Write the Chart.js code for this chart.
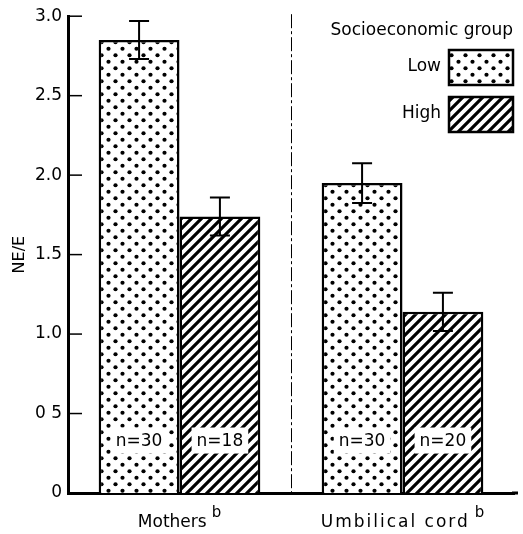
<!DOCTYPE html>
<html lang="en">
<head>
<meta charset="UTF-8" />
<title>NE/E by socioeconomic group</title>
<style>
  body { margin: 0; background: #fff; }
  #chart { display: block; }
</style>
</head>
<body>
<canvas id="chart" width="523" height="534"></canvas>
<script src="https://cdn.jsdelivr.net/npm/chart.js"></script>
<script>
// values
const groups = ['Mothers', 'Umbilical cord'];
const groupNote = 'b';
const seriesNames = ['Low', 'High'];
const lowValues = [2.85, 1.95];
const highValues = [1.74, 1.14];
const lowErrors = [0.12, 0.125];
const highErrors = [0.12, 0.12];
const lowCounts = ['n=30', 'n=30'];
const highCounts = ['n=18', 'n=20'];
const yTicks = [0, 0.5, 1, 1.5, 2, 2.5, 3];
const yTickLabels = ['0', '0 5', '1.0', '1.5', '2.0', '2.5', '3.0'];
const yTitle = 'NE/E';
const legendTitle = 'Socioeconomic group';

const FONT = 'DejaVu Sans';
Chart.defaults.font.family = FONT;
Chart.defaults.color = '#000';

// fill patterns: dots for low, diagonal hatch for high
function dotPattern() {
  const w = 14, h = 13;
  const c = document.createElement('canvas');
  c.width = w; c.height = h;
  const g = c.getContext('2d');
  g.fillStyle = '#fff';
  g.fillRect(0, 0, w, h);
  g.fillStyle = '#000';
  [[3.5, 3.25], [10.5, 9.75]].forEach(([x, y]) => {
    g.beginPath();
    g.arc(x, y, 2.1, 0, Math.PI * 2);
    g.fill();
  });
  return g.createPattern(c, 'repeat');
}

function hatchPattern() {
  const s = 10;
  const c = document.createElement('canvas');
  c.width = s; c.height = s;
  const g = c.getContext('2d');
  g.fillStyle = '#fff';
  g.fillRect(0, 0, s, s);
  g.strokeStyle = '#000';
  g.lineWidth = 3.2;
  g.beginPath();
  g.moveTo(-s / 2, s / 2); g.lineTo(s / 2, -s / 2);
  g.moveTo(0, s); g.lineTo(s, 0);
  g.moveTo(s / 2, s * 1.5); g.lineTo(s * 1.5, s / 2);
  g.stroke();
  return g.createPattern(c, 'repeat');
}

const fills = [dotPattern(), hatchPattern()];

const extras = {
  id: 'extras',
  afterDatasetsDraw(chart) {
    const { ctx, scales: { y } } = chart;
    const errs = [lowErrors, highErrors];
    const counts = [lowCounts, highCounts];
    ctx.save();
    // error bars
    ctx.strokeStyle = '#000';
    ctx.lineWidth = 2;
    chart.data.datasets.forEach((ds, i) => {
      chart.getDatasetMeta(i).data.forEach((bar, j) => {
        const v = ds.data[j], e = errs[i][j];
        const top = y.getPixelForValue(v + e);
        const bot = y.getPixelForValue(v - e);
        ctx.beginPath();
        ctx.moveTo(bar.x, top); ctx.lineTo(bar.x, bot);
        ctx.moveTo(bar.x - 10, top); ctx.lineTo(bar.x + 10, top);
        ctx.moveTo(bar.x - 10, bot); ctx.lineTo(bar.x + 10, bot);
        ctx.stroke();
      });
    });
    // n= labels inside bars
    ctx.font = '17px ' + FONT;
    ctx.textAlign = 'center';
    ctx.textBaseline = 'middle';
    chart.data.datasets.forEach((ds, i) => {
      chart.getDatasetMeta(i).data.forEach((bar, j) => {
        const t = counts[i][j];
        const w = ctx.measureText(t).width;
        const cy = y.getPixelForValue(0.33);
        ctx.fillStyle = '#fff';
        ctx.fillRect(bar.x - w / 2 - 5, cy - 13, w + 10, 26);
        ctx.fillStyle = '#000';
        ctx.fillText(t, bar.x, cy + 1);
      });
    });
    ctx.restore();
  },
  afterDraw(chart) {
    const { ctx, chartArea: a, scales: { x, y } } = chart;
    ctx.save();
    // inward y ticks
    ctx.strokeStyle = '#000';
    ctx.lineWidth = 1.5;
    yTicks.forEach(v => {
      const py = y.getPixelForValue(v);
      if (v === 0) return;
      ctx.beginPath();
      ctx.moveTo(a.left, py); ctx.lineTo(a.left + 14, py);
      ctx.stroke();
    });
    // extend x axis a little
    ctx.lineWidth = 3;
    ctx.beginPath();
    ctx.moveTo(a.right - 2, a.bottom); ctx.lineTo(a.right + 4, a.bottom);
    ctx.stroke();
    // dashed separator between groups
    const sx = Math.round((x.getPixelForValue(0) + x.getPixelForValue(1)) / 2) + 0.5;
    ctx.lineWidth = 1;
    ctx.setLineDash([14, 3, 3, 3]);
    ctx.beginPath();
    ctx.moveTo(sx, a.top - 2); ctx.lineTo(sx, a.bottom);
    ctx.stroke();
    ctx.setLineDash([]);
    // category labels with superscript note
    const spacing = ['0px', '2px'];
    ctx.fillStyle = '#000';
    ctx.textBaseline = 'alphabetic';
    ctx.textAlign = 'left';
    groups.forEach((g, i) => {
      ctx.font = '17px ' + FONT;
      ctx.letterSpacing = spacing[i];
      const w1 = ctx.measureText(g).width;
      ctx.font = '15px ' + FONT;
      ctx.letterSpacing = '0px';
      const w2 = ctx.measureText(groupNote).width;
      const gap = 5;
      const cx = x.getPixelForValue(i);
      const x0 = cx - (w1 + gap + w2) / 2;
      ctx.font = '17px ' + FONT;
      ctx.letterSpacing = spacing[i];
      ctx.fillText(g, x0, a.bottom + 34);
      ctx.font = '15px ' + FONT;
      ctx.letterSpacing = '0px';
      ctx.fillText(groupNote, x0 + w1 + gap, a.bottom + 24);
    });
    // legend
    ctx.font = '17px ' + FONT;
    ctx.textAlign = 'right';
    ctx.fillText(legendTitle, 513, 35);
    const boxes = [50, 97];
    seriesNames.forEach((name, i) => {
      const by = boxes[i];
      ctx.fillStyle = fills[i];
      ctx.fillRect(449, by, 64, 35);
      ctx.strokeStyle = '#000';
      ctx.lineWidth = 2.5;
      ctx.strokeRect(449, by, 64, 35);
      ctx.fillStyle = '#000';
      ctx.textBaseline = 'middle';
      ctx.fillText(name, 441, by + 17);
    });
    ctx.restore();
  }
};

new Chart(document.getElementById('chart'), {
  type: 'bar',
  data: {
    labels: groups,
    datasets: [
      { label: seriesNames[0], data: lowValues, backgroundColor: fills[0] },
      { label: seriesNames[1], data: highValues, backgroundColor: fills[1] }
    ]
  },
  options: {
    responsive: false,
    animation: false,
    layout: { padding: { top: 14, right: 9, left: 0, bottom: 0 } },
    datasets: {
      bar: {
        borderColor: '#000',
        borderWidth: 2.5,
        barPercentage: 1,
        categoryPercentage: 0.725
      }
    },
    plugins: {
      legend: { display: false },
      tooltip: { enabled: false }
    },
    scales: {
      x: {
        z: 1,
        grid: { display: false, drawTicks: false },
        border: { display: true, color: '#000', width: 3 },
        ticks: { display: false },
        afterFit(s) { s.height = 41; }
      },
      y: {
        z: 1,
        min: 0,
        max: 3,
        afterBuildTicks(s) { s.ticks = yTicks.map(v => ({ value: v })); },
        grid: { display: false, drawTicks: false },
        border: { display: true, color: '#000', width: 3 },
        ticks: {
          padding: 6,
          font: { size: 17 },
          callback: (v) => yTickLabels[yTicks.indexOf(v)]
        },
        title: {
          display: true,
          text: yTitle,
          font: { size: 16 },
          padding: { top: 10, bottom: 0 }
        },
        afterFit(s) { s.width = 68; }
      }
    }
  },
  plugins: [extras]
});
</script>
</body>
</html>
